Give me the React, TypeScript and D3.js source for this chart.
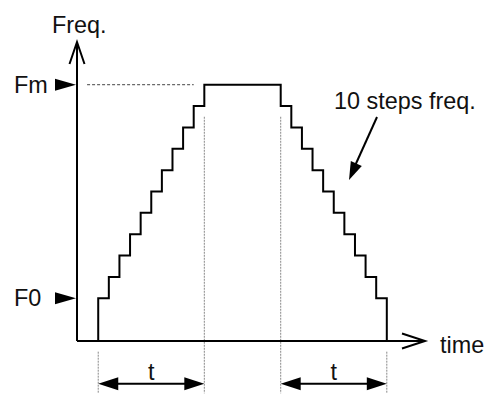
import React from "react";
import * as d3 from "d3";

// ---- data (time in step units, frequency in step levels) ----
const stairTime = [2, 2, 3, 4, 5, 6, 7, 8, 9, 10, 11, 12, 19.2, 20.2, 21.2, 22.2, 23.2, 24.2, 25.2, 26.2, 27.2, 28.2, 29.2];
const stairFreq = [0, 2, 3, 4, 5, 6, 7, 8, 9, 10, 11, 12, 11, 10, 9, 8, 7, 6, 5, 4, 3, 2, 0];
const tickLabels = ["F0", "Fm"];
const tickLevels = [2, 12];
const rampStart = [2, 19.2];
const rampEnd = [12, 29.2];
const spanLabel = "t";
const yTitle = "Freq.";
const xTitle = "time";
const note = "10 steps freq.";

const W = 494;
const H = 405;

export default function App() {
  const x = d3.scaleLinear().domain([0, 32.8]).range([77, 425]);
  const y = d3.scaleLinear().domain([0, 14]).range([341, 42]);

  const stairPts: [number, number][] = stairTime.map((t, i) => [x(t), y(stairFreq[i])]);
  const stairPath = d3.line().curve(d3.curveStepAfter)(stairPts) || "";

  const font = "'Liberation Sans', Arial, Helvetica, sans-serif";
  const fs = 23.4;
  const arrowY = y(-2);

  const headPath = (tx: number, ty: number, fx: number, fy: number, len: number, hw: number) => {
    const dx = tx - fx, dy = ty - fy;
    const L = Math.hypot(dx, dy);
    const ux = dx / L, uy = dy / L;
    const bx = tx - ux * len, by = ty - uy * len;
    return `M${tx},${ty}L${bx - uy * hw},${by + ux * hw}L${bx + uy * hw},${by - ux * hw}Z`;
  };

  return (
    <svg width={W} height={H} style={{ position: "absolute", left: 0, top: 0, background: "#fff" }}>
      {/* dashed Fm reference */}
      <line x1={x(0.95)} x2={x(11)} y1={y(12)} y2={y(12)} stroke="#444" strokeWidth={1} strokeDasharray="3,2" />
      {/* dotted verticals */}
      {rampStart.concat(rampEnd).map((t, i) => {
        const inner = t === rampEnd[0] || t === rampStart[1];
        return (
          <line key={"v" + i} x1={x(t)} x2={x(t)} y1={inner ? y(10.5) : y(-0.5)} y2={y(-2.45)}
            stroke="#888" strokeWidth={1} strokeDasharray="2,1" />
        );
      })}
      {/* axes */}
      <line x1={x(0)} x2={x(0)} y1={y(0)} y2={y(14)} stroke="#000" strokeWidth={2} />
      <line x1={x(0)} x2={x(32.8)} y1={y(0)} y2={y(0)} stroke="#000" strokeWidth={2} />
      <polyline points={`${x(0) - 7.5},${y(14) + 22} ${x(0)},${y(14)} ${x(0) + 7.5},${y(14) + 22}`} fill="none" stroke="#000" strokeWidth={2} />
      <polyline points={`${x(32.8) - 23},${y(0) - 7.5} ${x(32.8)},${y(0)} ${x(32.8) - 23},${y(0) + 7.5}`} fill="none" stroke="#000" strokeWidth={2} />
      {/* stair curve */}
      <path d={stairPath} fill="none" stroke="#000" strokeWidth={2} />
      {/* tick markers and labels */}
      {tickLevels.map((lv, i) => (
        <g key={"t" + i}>
          <path d={`M${x(0) - 22},${y(lv) - 6}L${x(0) - 22},${y(lv) + 6}L${x(0) - 1},${y(lv)}Z`} fill="#000" />
          <text x={14} y={y(lv) + 8} fontFamily={font} fontSize={fs} fill="#111">{tickLabels[i]}</text>
        </g>
      ))}
      {/* axis titles */}
      <text x={52} y={33} fontFamily={font} fontSize={fs} fill="#111">{yTitle}</text>
      <text x={440} y={353} fontFamily={font} fontSize={fs} fill="#111">{xTitle}</text>
      {/* span arrows */}
      {rampStart.map((s, i) => {
        const a = x(s), b = x(rampEnd[i]);
        return (
          <g key={"s" + i}>
            <line x1={a + 10} x2={b - 10} y1={arrowY} y2={arrowY} stroke="#000" strokeWidth={2} />
            <path d={headPath(a, arrowY, b, arrowY, 20, 6.5)} fill="#000" />
            <path d={headPath(b, arrowY, a, arrowY, 20, 6.5)} fill="#000" />
            <text x={(a + b) / 2} y={380} textAnchor="middle" fontFamily={font} fontSize={fs} fill="#111">{spanLabel}</text>
          </g>
        );
      })}
      {/* annotation */}
      <text x={334} y={109} fontFamily={font} fontSize={fs} fill="#111">{note}</text>
      <line x1={377} y1={117} x2={354} y2={168} stroke="#000" strokeWidth={2} />
      <path d={headPath(349, 180, 377, 117, 18, 6)} fill="#000" />
    </svg>
  );
}
